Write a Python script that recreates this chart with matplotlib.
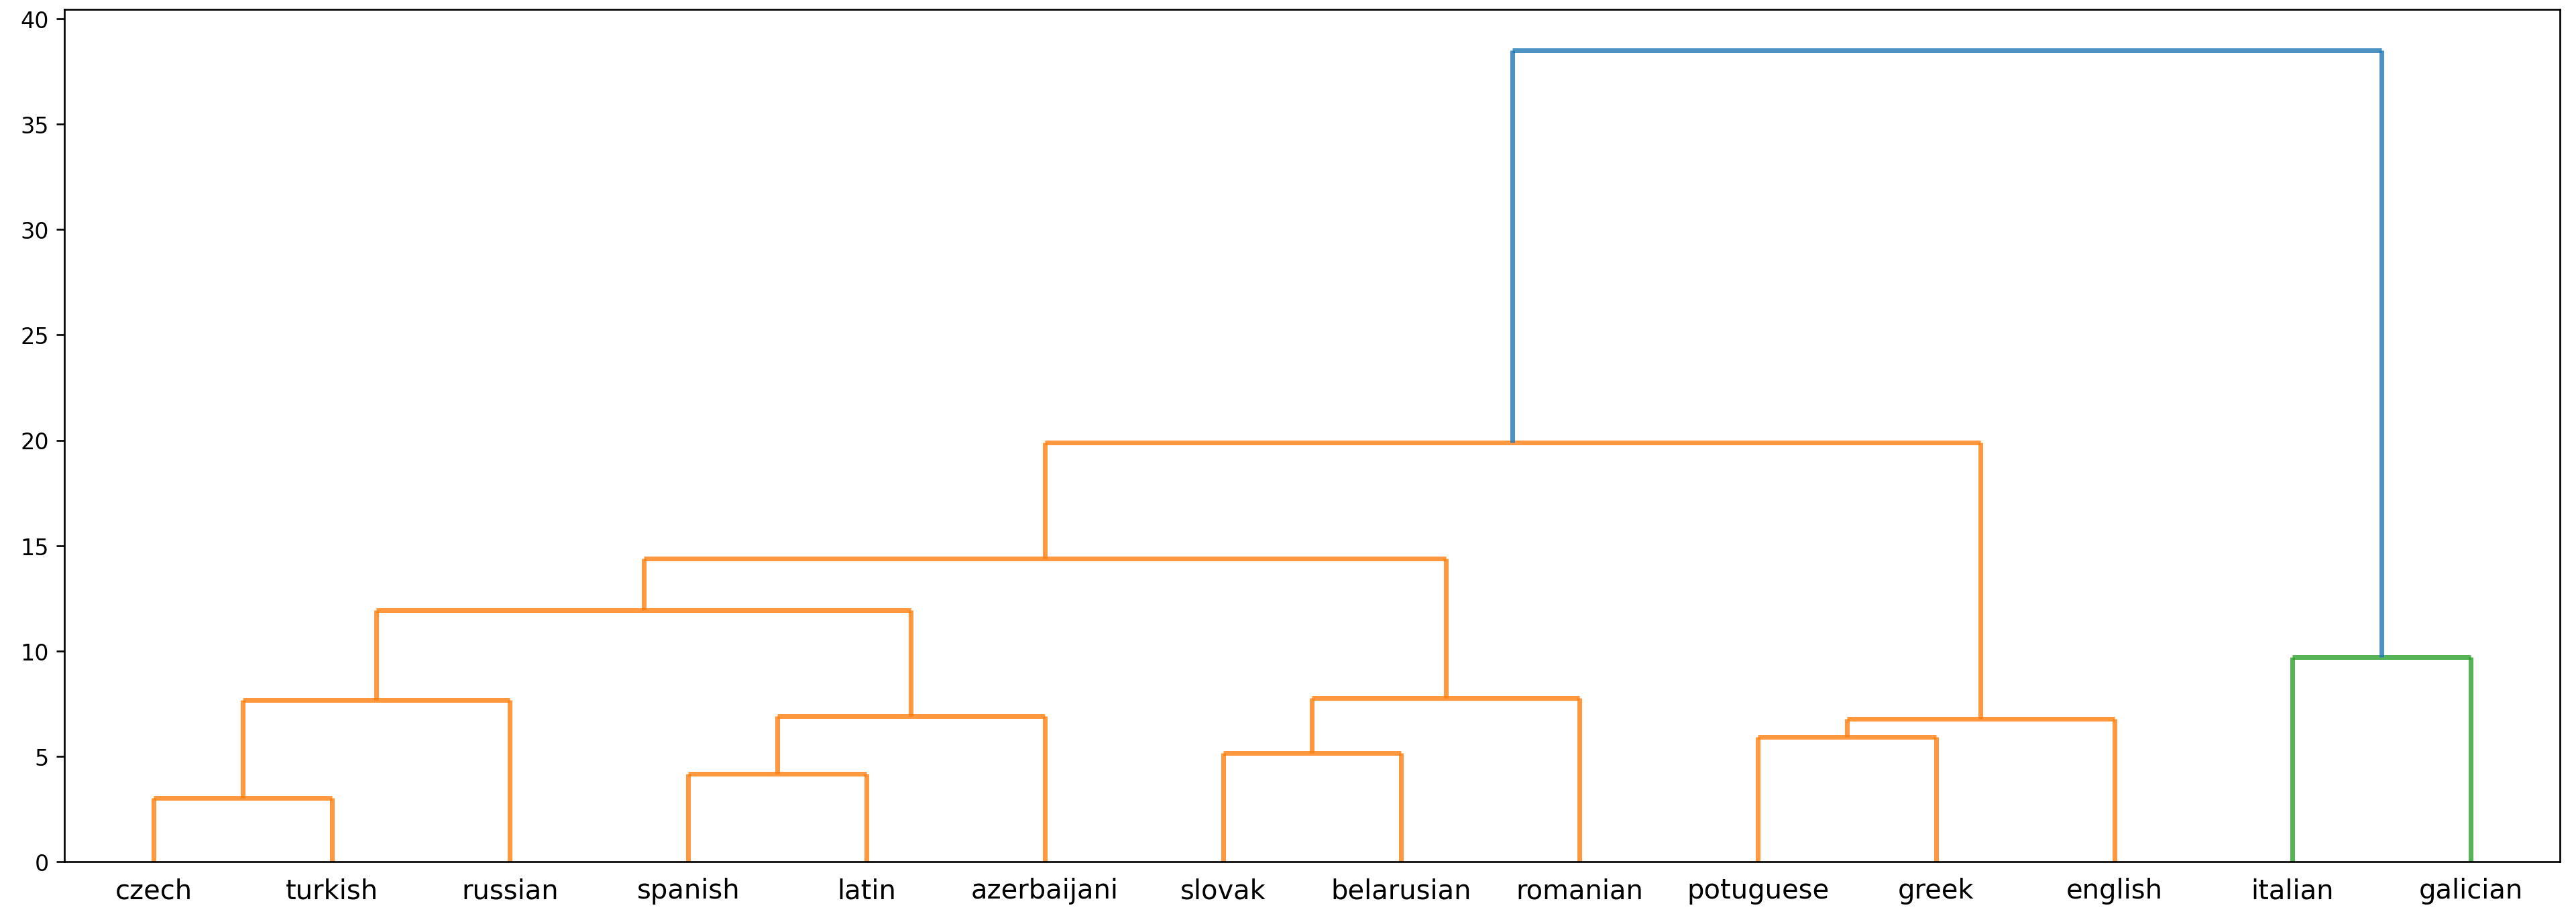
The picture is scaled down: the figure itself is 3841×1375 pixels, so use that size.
import matplotlib
matplotlib.use("Agg")
import matplotlib.pyplot as plt
import numpy as np

# leaves in dendrogram order
leaves = ['czech', 'turkish', 'russian', 'spanish', 'latin', 'azerbaijani',
          'slovak', 'belarusian', 'romanian', 'potuguese', 'greek', 'english',
          'italian', 'galician']

# merges: (left node, right node), leaves are 0..13, new clusters start at 14
merge_left = [0, 14, 3, 16, 15, 6, 19, 18, 9, 22, 21, 12, 24]
merge_right = [1, 2, 4, 5, 17, 7, 8, 20, 10, 11, 23, 13, 25]
merge_height = [3.01, 7.68, 4.16, 6.92, 11.92, 5.16, 7.77, 14.38, 5.92, 6.78,
                19.90, 9.71, 38.52]
merge_group = ['C1', 'C1', 'C1', 'C1', 'C1', 'C1', 'C1', 'C1', 'C1', 'C1',
               'C1', 'C2', 'C0']

n = len(leaves)
xpos = [5 + 10 * i for i in range(n)]
ypos = [0.0] * n

fig = plt.figure(figsize=(16.008, 5.733), dpi=240)
ax = fig.add_axes([0.025, 0.0654, 0.9685, 0.9237])

for l, r, h, c in zip(merge_left, merge_right, merge_height, merge_group):
    xl, xr = xpos[l], xpos[r]
    # draw the U as separate pieces (corners overlap like the original)
    ax.plot([xl, xl], [ypos[l], h], color=c, alpha=0.8, lw=2.1, solid_capstyle='butt')
    ax.plot([xl, xr], [h, h], color=c, alpha=0.8, lw=2.1, solid_capstyle='butt')
    ax.plot([xr, xr], [h, ypos[r]], color=c, alpha=0.8, lw=2.1, solid_capstyle='butt')
    xpos.append((xl + xr) / 2)
    ypos.append(h)

ax.set_xlim(0, 10 * n)
ax.set_ylim(0, max(merge_height) * 1.05)
ax.set_xticks([5 + 10 * i for i in range(n)])
ax.set_xticklabels(leaves, fontsize=12)
ax.set_yticks(np.arange(0, 41, 5))
ax.tick_params(axis='y', labelsize=10)
ax.tick_params(axis='x', length=0, pad=7)

fig.savefig('out.png', dpi=240)
